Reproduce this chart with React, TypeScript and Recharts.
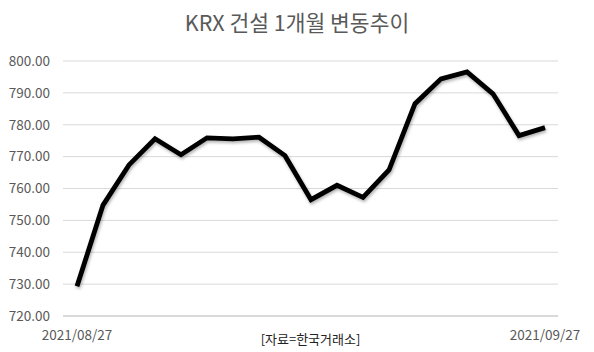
import { LineChart, Line, XAxis, YAxis, CartesianGrid } from 'recharts'

const dates = [
  '2021/08/27', '2021/08/30', '2021/08/31', '2021/09/01', '2021/09/02',
  '2021/09/03', '2021/09/06', '2021/09/07', '2021/09/08', '2021/09/09',
  '2021/09/10', '2021/09/13', '2021/09/14', '2021/09/15', '2021/09/16',
  '2021/09/17', '2021/09/23', '2021/09/24', '2021/09/27'
]
const closes = [
  729.3, 754.8, 767.4, 775.6, 770.6, 775.9, 775.6, 776.1, 770.3, 756.5,
  761.0, 757.2, 765.8, 786.6, 794.4, 796.6, 789.7, 776.6, 779.1
]
const yTicks = [720, 730, 740, 750, 760, 770, 780, 790, 800]
const title = 'KRX 건설 1개월 변동추이'
const source = '[자료=한국거래소]'

const data = dates.map((date, i) => ({ date, close: closes[i] }))
const font = "'Noto Sans CJK KR', 'Noto Sans', sans-serif"
const grey = '#595959'

export default function App() {
  const first = dates[0]
  const last = dates[dates.length - 1]
  return (
    <div style={{ position: 'absolute', left: 0, top: 0, width: 594, height: 352, background: '#fff', fontFamily: font }}>
      <div style={{ position: 'absolute', top: 6, left: 0, width: 594, textAlign: 'center', fontSize: 21.5, color: grey, lineHeight: '32px' }}>
        {title}
      </div>
      <LineChart
        width={594}
        height={352}
        data={data}
        margin={{ top: 61, right: 36, bottom: 0, left: 0 }}
        style={{ fontFamily: font }}
      >
        <CartesianGrid vertical={false} stroke="#d9d9d9" strokeWidth={1} />
        <XAxis
          dataKey="date"
          interval={0}
          height={36}
          padding={{ left: 14, right: 13 }}
          tickLine={false}
          axisLine={{ stroke: '#d9d9d9', strokeWidth: 2 }}
          tickMargin={8}
          tick={{ fill: grey, fontSize: 13.5 }}
          tickFormatter={(d: string) => (d === first || d === last ? d : '')}
          label={{ value: source, position: 'insideBottom', offset: 8, fill: '#222', fontSize: 13 }}
        />
        <YAxis
          width={63}
          domain={[720, 800]}
          ticks={yTicks}
          axisLine={false}
          tickLine={false}
          tickMargin={7}
          tick={{ fill: grey, fontSize: 13.5 }}
          tickFormatter={(v: number) => v.toFixed(2)}
        />
        <Line
          type="linear"
          dataKey="close"
          stroke="#000"
          strokeWidth={4.8}
          dot={false}
          isAnimationActive={false}
          style={{ filter: 'drop-shadow(1px 2px 1.5px rgba(0,0,0,0.3))' }}
        />
      </LineChart>
    </div>
  )
}
